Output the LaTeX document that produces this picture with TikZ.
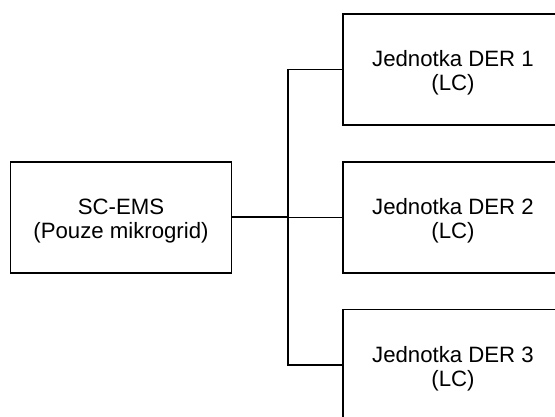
\documentclass[tikz,border=0pt]{standalone}
\usepackage{fontspec}
\setmainfont{Liberation Sans}
% extra height on the first line lowers the text block a little
\newcommand\capboost{\rule{0pt}{23pt}}
\begin{document}
\begin{tikzpicture}[x=1pt,y=-1pt,
  unit/.style={draw=black, line width=1.3pt, minimum width=221pt, minimum height=111pt,
    align=center, inner sep=0pt, font=\fontsize{22.2}{24}\selectfont},
  link/.style={draw=black, line width=1.3pt}]
\useasboundingbox (0,0) rectangle (555,417);
\clip (0,0) rectangle (555,417);
\node[unit] (sc) at (121,217.5) {\capboost SC-EMS\\(Pouze mikrogrid)};
\node[unit, minimum width=220pt] (d1) at (453,69.5) {\capboost Jednotka DER 1\\(LC)};
\node[unit, minimum width=220pt] (d2) at (453,217.5) {\capboost Jednotka DER 2\\(LC)};
\node[unit, minimum width=220pt] (d3) at (453,365) {\capboost Jednotka DER 3\\(LC)};
\coordinate (bus) at (288,217.5);
\draw[link, line width=2pt] (sc.east) -- (bus);
\draw[link] (bus) -- (d2.west);
\draw[link] (bus) |- (d1.west);
\draw[link] (bus) |- (d3.west);
\end{tikzpicture}
\end{document}
